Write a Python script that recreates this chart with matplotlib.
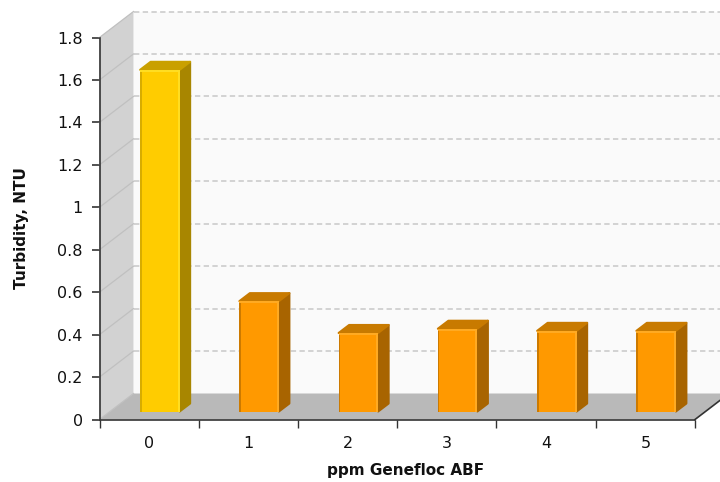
import matplotlib
matplotlib.use("Agg")
import matplotlib.pyplot as plt
from matplotlib.patches import Polygon, Rectangle

categories = ["0", "1", "2", "3", "4", "5"]
values = [1.61, 0.52, 0.37, 0.39, 0.38, 0.38]
y_ticks = [0, 0.2, 0.4, 0.6, 0.8, 1, 1.2, 1.4, 1.6, 1.8]
y_labels = ["0", "0.2", "0.4", "0.6", "0.8", "1", "1.2", "1.4", "1.6", "1.8"]

W, H, DPI = 720, 482, 100
plt.rcParams["font.family"] = ["DejaVu Sans"]
fig = plt.figure(figsize=(W / DPI, H / DPI), dpi=DPI, facecolor="white")
L, R, B, T = 99.5, 695, 419.5, 37.5
ax = fig.add_axes([L / W, 1 - B / H, (R - L) / W, (B - T) / H])
ax.set_xlim(-0.5, 5.5)
ax.set_ylim(0, 1.8)
ax.patch.set_visible(False)
for s in ["top", "right"]:
    ax.spines[s].set_visible(False)
for s in ["left", "bottom"]:
    ax.spines[s].set_color("#333333")
    ax.spines[s].set_linewidth(1.2)
    ax.spines[s].set_zorder(20)

px_x = (R - L) / 6
px_y = (B - T) / 1.8
DX, DY = 34 / px_x, 26 / px_y      # full floor depth in data units
bdx, bdy = 10.5 / px_x, 8 / px_y   # bar depth in data units
sx, sy = 11 / px_x, 8 / px_y       # bar front offset from the axis line
half = 20 / px_x
x0, x1, ym = -0.5, 5.5, 1.8


def poly(pts, color, z, lw=0.0):
    ax.add_patch(Polygon(pts, closed=True, facecolor=color, edgecolor=color if lw else "none",
                         lw=lw, joinstyle="round", zorder=z, clip_on=False))


poly([(x0 + DX, DY), (x1 + 1, DY), (x1 + 1, ym + DY), (x0 + DX, ym + DY)], "#fafafa", 1)
poly([(x0, 0), (x0 + DX, DY), (x0 + DX, ym + DY), (x0, ym)], "#d2d2d2", 1)
poly([(x0, 0), (x1, 0), (x1 + DX, DY), (x0 + DX, DY)], "#b9b9b9", 2)

for t in y_ticks:
    ax.plot([x0, x0 + DX], [t, t + DY], color="#c0c0c0", lw=0.9, zorder=3, clip_on=False)
    if t > 0:
        ax.plot([x0 + DX, x1 + 1], [t + DY, t + DY], color="#c8c8c8", lw=1.1,
                dashes=(3.5, 2.2), zorder=3, clip_on=False)
ax.plot([x1, x1 + DX], [0, DY], color="#333333", lw=1.2, zorder=20, clip_on=False)


def bar(i, v):
    c = "#ffcc00" if i == 0 else "#ff9900"
    dark = "#a88600" if i == 0 else "#a86400"
    top = "#c9a000" if i == 0 else "#c87a00"
    hi = "#ffdd22" if i == 0 else "#ffaa22"
    edge = "#d8ac00" if i == 0 else "#cc7a00"
    xl, xr = i + sx - half, i + sx + half - 0.5 / px_x
    yb, yt = sy, sy + v
    poly([(xr, yb), (xr + bdx, yb + bdy), (xr + bdx, yt + bdy), (xr, yt)], dark, 6, lw=1.5)
    poly([(xl, yt), (xr, yt), (xr + bdx, yt + bdy), (xl + bdx, yt + bdy)], top, 6, lw=1.5)
    ax.add_patch(Rectangle((xl, yb), xr - xl, yt - yb, fc=c, ec="none", zorder=7, clip_on=False))
    ax.add_patch(Rectangle((xl, yb), 1.5 / px_x, yt - yb, fc=edge, ec="none", zorder=8, clip_on=False))
    ax.add_patch(Rectangle((xr - 2 / px_x, yb), 2 / px_x, yt - yb, fc=hi, ec="none", zorder=8, clip_on=False))
    ax.add_patch(Rectangle((xl, yt - 2 / px_y), xr - xl, 2 / px_y, fc=hi, ec="none", zorder=8, clip_on=False))


for i, v in enumerate(values):
    bar(i, v)

ax.set_yticks(y_ticks, y_labels)
ax.set_xticks([-0.5 + k for k in range(7)], [""] * 7)
ax.set_xticks(range(6), categories, minor=True)
ax.tick_params(axis="x", which="major", length=5.5, width=1, color="#333333")
ax.tick_params(axis="x", which="minor", length=0, pad=12, labelsize=11.5, labelcolor="#111111")
ax.tick_params(axis="y", length=6, width=1.2, color="#333333", pad=6, labelsize=11.5, labelcolor="#111111")
fig.text(22 / W, 1 - 228 / H, "Turbidity, NTU", rotation=90, ha="center", va="center",
         fontsize=11, fontweight="bold", color="#111111")
fig.text(405.5 / W, 1 - 471 / H, "ppm Genefloc ABF", ha="center", va="center",
         fontsize=11, fontweight="bold", color="#111111")
fig.savefig("out.png", dpi=DPI, facecolor="white")
